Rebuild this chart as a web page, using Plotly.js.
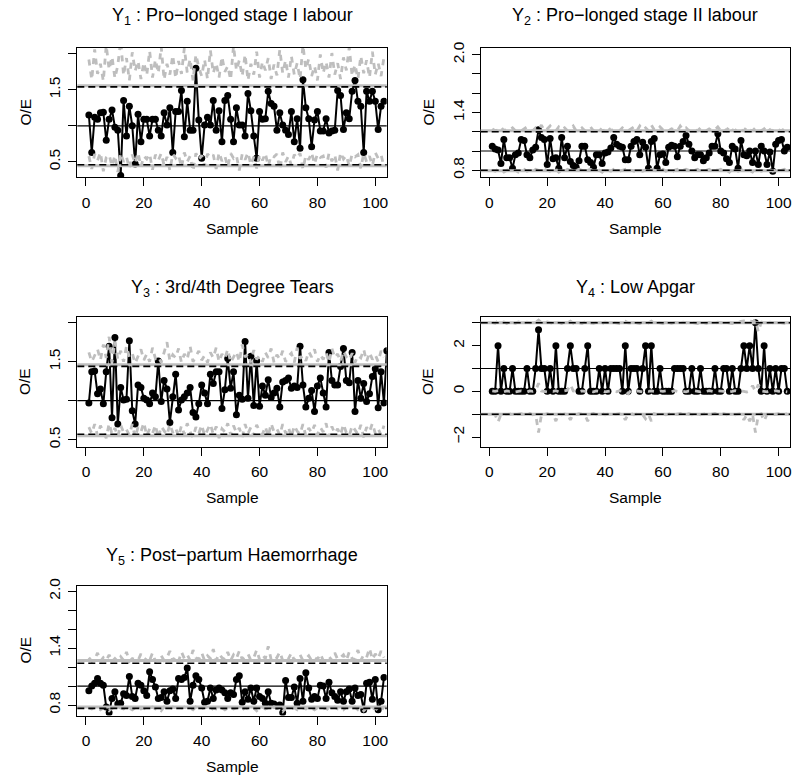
<!DOCTYPE html>
<html><head><meta charset="utf-8">
<script src="https://cdn.plot.ly/plotly-3.0.1.min.js"></script>
<style>html,body{margin:0;padding:0;background:#fff}#chart{width:795px;height:779px}</style>
</head><body><div id="chart"></div>
<script>
// ---- text ----
const panelTitles = [
  "Y<sub>1</sub> : Pro\u2212longed stage I labour",
  "Y<sub>2</sub> : Pro\u2212longed stage II labour",
  "Y<sub>3</sub> : 3rd/4th Degree Tears",
  "Y<sub>4</sub> : Low Apgar",
  "Y<sub>5</sub> : Post\u2212partum Haemorrhage"
];
const xLabel = "Sample";
const yLabel = "O/E";
const xTickVals = [0, 20, 40, 60, 80, 100];
const yTickVals1 = [0.5, 1.0, 1.5, 2.0];
const yTickText1 = ["0.5", " ", "1.5", " "];
const yTickVals2 = [0.8, 1.0, 1.2, 1.4, 1.6, 1.8, 2.0];
const yTickText2 = ["0.8", " ", " ", "1.4", " ", " ", "2.0"];
const yTickVals4 = [-2, -1, 0, 1, 2, 3];
const yTickText4 = ["\u22122", " ", "0", " ", "2", " "];

// ---- observed O/E series ----
const obs1 = [1.15,0.63,1.12,1.09,1.18,1.19,0.80,1.09,1.22,0.98,0.94,0.31,1.35,0.86,1.27,1.00,0.47,1.16,0.78,1.09,
1.09,0.86,1.09,1.09,0.94,0.86,1.18,1.01,1.25,0.63,1.20,1.20,1.49,0.85,1.34,0.94,0.94,1.80,1.08,0.55,
1.01,1.12,1.01,1.35,0.94,1.21,0.78,1.35,1.42,1.09,0.78,1.25,1.01,1.01,0.86,1.45,1.21,0.86,0.55,1.20,
1.09,1.10,1.48,1.31,1.27,0.94,1.18,1.01,0.94,0.88,1.20,0.78,1.10,0.69,1.64,1.25,1.10,0.71,1.08,1.20,
0.93,0.93,1.10,0.90,0.93,0.94,1.49,1.42,0.95,1.18,1.10,1.48,1.63,1.34,1.27,0.63,1.48,1.34,1.48,1.34,
0.95,1.27,1.34];
const obs2 = [1.05,1.02,1.01,0.87,1.12,0.93,0.93,0.82,0.96,0.98,1.12,1.11,0.96,0.93,1.01,1.04,1.22,1.14,1.12,0.86,
1.13,0.92,0.93,0.82,1.14,0.93,1.05,0.89,0.85,0.83,0.90,1.05,1.05,0.91,0.88,0.83,0.96,0.96,0.87,0.98,
0.99,1.03,1.14,1.07,1.05,1.04,0.91,0.91,1.05,1.10,1.12,0.96,1.09,1.04,0.82,1.10,1.13,0.82,0.96,0.97,
0.88,1.04,1.06,1.05,0.94,1.05,1.10,1.16,1.07,1.00,0.93,0.96,0.96,0.90,0.93,0.98,1.05,1.05,1.18,1.00,
0.98,0.92,0.88,1.05,1.02,0.82,1.11,0.96,0.95,1.00,0.88,1.00,0.86,1.05,1.00,0.86,0.99,0.79,1.07,1.11,
1.12,1.00,1.04];
const obs3 = [0.97,1.37,1.38,1.09,1.15,0.96,1.37,1.70,0.78,1.81,0.70,1.17,1.01,1.02,1.77,0.87,0.70,1.20,1.17,1.03,
1.01,0.96,1.10,1.05,1.51,0.99,1.26,1.15,0.72,1.05,1.34,0.88,1.01,1.05,1.10,1.17,0.85,0.79,0.96,1.20,
1.10,0.96,1.34,1.22,1.37,1.37,0.90,1.14,1.54,1.16,1.37,0.82,1.07,1.02,1.76,1.03,1.57,0.94,1.51,0.93,
1.19,1.07,1.27,1.04,1.10,1.16,0.92,1.24,1.26,1.29,1.16,1.19,1.17,1.70,1.20,0.92,1.03,1.13,0.86,1.19,
1.29,1.10,0.92,1.62,1.26,1.20,1.20,1.44,1.67,1.26,1.23,1.62,0.86,1.26,1.03,1.22,0.99,1.09,1.31,1.41,
0.91,1.37,0.97,1.64];
const obs4 = [0,0,2,0,1,0,0,1,0,0,0,0,1,0,0,1,2.7,1,1,0,
1,0,2,0,0,0,1,2,1,1,0,0,1,2,0,0,0,1,0,1,
0,1,1,1,1,0,2,0,1,1,1,0,1,2,0,2,0,0,1,0,
0,0,0,1,1,1,1,0,0,1,0,0,1,0,0,0,0,1,0,0,
1,1,0,1,0,0,1,2,1,2,1,3,1,0,2,0,1,0,1,0,
1,1,0];
const obs5 = [0.95,1.00,1.03,1.08,1.03,1.01,0.78,0.72,0.87,0.94,0.81,0.82,0.92,0.90,1.10,0.89,0.87,1.03,1.01,0.95,
0.90,1.15,1.07,0.99,0.87,0.88,0.94,0.84,0.95,0.97,0.87,1.08,1.07,1.09,1.19,0.84,1.01,1.11,1.07,0.98,
0.83,0.84,0.98,0.87,0.96,0.98,0.96,0.93,0.87,0.93,0.91,1.07,1.11,0.83,0.94,0.86,0.98,0.84,0.98,0.89,
0.87,0.82,0.94,0.82,0.81,0.79,0.80,0.72,1.06,0.88,0.88,0.99,0.82,1.08,0.84,1.14,0.98,0.86,0.89,0.87,
1.01,1.00,0.87,1.04,0.93,0.89,0.85,0.94,0.84,0.94,0.97,0.84,0.98,0.90,0.91,0.75,1.03,1.04,0.86,1.07,
0.75,0.84,1.09];

// ---- simulated upper / lower bands (grey dashed) ----
const simUp1 = [1.92,1.64,2.06,1.72,1.86,1.62,2.12,1.78,1.96,1.66,1.84,2.18,1.7,1.94,1.63,2.02,1.76,1.9,1.65,1.88,
1.7,2.04,1.67,1.92,1.73,2.1,1.64,1.86,1.71,1.98,1.66,1.9,1.72,2.08,1.74,1.93,1.63,1.99,1.81,1.69,
1.92,1.65,2.05,1.73,1.87,1.67,1.96,1.75,1.83,1.64,2.11,1.77,1.91,1.69,1.99,1.63,1.86,1.71,2.03,1.67,
1.89,1.77,1.94,1.65,1.85,1.7,2.06,1.73,1.91,1.67,1.97,1.71,1.87,1.65,2.12,1.79,1.93,1.69,1.83,1.63,
1.99,1.73,1.89,1.67,2.01,1.71,1.87,1.65,1.95,1.77,2.09,1.69,1.85,1.65,1.97,1.73,1.91,1.67,2.03,1.71,
1.87,1.69,1.95];
const simLo1 = [0.58,0.4,0.61,0.52,0.63,0.37,0.56,0.6,0.44,0.59,0.36,0.62,0.5,0.57,0.41,0.6,0.48,0.63,0.43,0.58,
0.54,0.61,0.39,0.6,0.52,0.62,0.45,0.57,0.38,0.61,0.55,0.6,0.42,0.63,0.5,0.58,0.37,0.62,0.53,0.59,
0.44,0.61,0.56,0.6,0.4,0.63,0.51,0.58,0.43,0.62,0.55,0.59,0.38,0.61,0.53,0.63,0.46,0.57,0.41,0.6,
0.52,0.62,0.44,0.59,0.57,0.61,0.39,0.63,0.5,0.58,0.45,0.6,0.55,0.62,0.4,0.59,0.53,0.63,0.47,0.61,
0.56,0.58,0.42,0.62,0.51,0.6,0.38,0.63,0.54,0.59,0.44,0.61,0.57,0.6,0.41,0.62,0.5,0.58,0.45,0.63,
0.55,0.6,0.43];
const simUp2 = [1.23,1.21,1.22,1.25,1.21,1.23,1.22,1.24,1.21,1.22,1.21,1.23,1.25,1.22,1.21,1.24,1.22,1.27,1.21,1.23,
1.26,1.22,1.21,1.25,1.22,1.24,1.21,1.23,1.26,1.21,1.22,1.24,1.21,1.23,1.25,1.21,1.22,1.24,1.21,1.22,
1.25,1.21,1.23,1.22,1.21,1.24,1.22,1.21,1.23,1.25,1.21,1.26,1.22,1.24,1.21,1.27,1.22,1.21,1.25,1.22,
1.24,1.21,1.23,1.22,1.21,1.26,1.22,1.24,1.21,1.23,1.22,1.21,1.24,1.22,1.21,1.23,1.21,1.22,1.25,1.21,
1.23,1.21,1.26,1.22,1.21,1.24,1.22,1.21,1.25,1.22,1.21,1.24,1.22,1.21,1.23,1.26,1.22,1.21,1.24,1.22,
1.21,1.23,1.22];
const simLo2 = [0.80,0.79,0.81,0.80,0.78,0.80,0.81,0.79,0.80,0.78,0.80,0.81,0.79,0.80,0.78,0.81,0.80,0.79,0.81,0.80,
0.79,0.80,0.81,0.78,0.80,0.79,0.81,0.80,0.79,0.80,0.81,0.80,0.78,0.80,0.81,0.79,0.80,0.80,0.78,0.81,
0.80,0.79,0.81,0.80,0.79,0.80,0.81,0.78,0.80,0.79,0.81,0.80,0.79,0.80,0.78,0.81,0.80,0.79,0.80,0.81,
0.79,0.80,0.78,0.80,0.81,0.79,0.80,0.81,0.80,0.79,0.80,0.81,0.79,0.78,0.80,0.81,0.79,0.80,0.80,0.81,
0.79,0.80,0.78,0.81,0.80,0.79,0.80,0.81,0.79,0.80,0.78,0.80,0.81,0.79,0.80,0.80,0.81,0.79,0.80,0.78,
0.80,0.81,0.79];
const simUp3 = [1.62,1.5,1.58,1.66,1.52,1.72,1.55,1.82,1.49,1.76,1.53,1.64,1.5,1.7,1.56,1.61,1.48,1.58,1.66,1.52,
1.6,1.5,1.68,1.54,1.57,1.49,1.63,1.75,1.51,1.59,1.55,1.67,1.49,1.6,1.53,1.7,1.5,1.57,1.64,1.52,
1.58,1.49,1.62,1.55,1.68,1.5,1.6,1.54,1.66,1.49,1.57,1.63,1.5,1.72,1.56,1.6,1.49,1.65,1.53,1.58,
1.5,1.62,1.55,1.67,1.49,1.59,1.53,1.64,1.5,1.57,1.61,1.49,1.68,1.54,1.58,1.51,1.63,1.56,1.66,1.5,
1.59,1.53,1.62,1.49,1.67,1.55,1.6,1.5,1.64,1.56,1.52,1.61,1.49,1.58,1.55,1.66,1.5,1.62,1.53,1.59,
1.5,1.64,1.56];
const simLo3 = [0.66,0.58,0.7,0.55,0.68,0.6,0.52,0.71,0.57,0.65,0.54,0.69,0.59,0.63,0.56,0.7,0.53,0.66,0.6,0.72,
0.55,0.64,0.58,0.69,0.52,0.67,0.61,0.56,0.7,0.59,0.65,0.54,0.68,0.57,0.71,0.6,0.53,0.66,0.58,0.69,
0.55,0.63,0.7,0.57,0.67,0.52,0.64,0.6,0.71,0.56,0.68,0.59,0.65,0.53,0.7,0.58,0.66,0.55,0.69,0.61,
0.57,0.67,0.54,0.71,0.6,0.64,0.56,0.7,0.58,0.66,0.53,0.68,0.61,0.57,0.7,0.55,0.65,0.59,0.69,0.56,
0.66,0.6,0.71,0.54,0.67,0.58,0.64,0.56,0.7,0.59,0.55,0.68,0.62,0.57,0.69,0.53,0.66,0.6,0.71,0.58,
0.64,0.56,0.68];
const simUp4 = [3.02,2.98,3.08,3.0,3.03,2.97,3.05,3.01,2.98,3.04,3.0,2.97,3.03,3.0,2.98,3.02,3.12,3.0,2.97,3.04,
3.0,2.98,3.06,3.01,2.97,3.03,3.0,3.07,2.98,3.02,3.0,2.97,3.03,3.07,3.0,2.98,3.02,3.0,2.97,3.03,
3.0,2.98,3.02,3.0,2.97,3.03,3.07,3.0,2.98,3.02,3.0,2.97,3.03,3.08,3.0,3.07,2.98,3.02,3.0,2.97,
3.03,3.0,2.98,3.02,3.0,2.97,3.03,3.0,2.98,3.02,3.0,2.97,3.03,3.0,2.98,3.02,3.0,2.97,3.03,3.0,
2.98,3.02,3.0,2.97,3.03,3.0,3.06,3.08,3.04,3.1,3.03,3.12,2.6,3.02,3.07,2.98,3.03,3.0,2.97,3.02,
3.0,2.98,3.02];
const simLo4 = [-1.0,-1.02,-1.35,-1.0,-0.98,-1.02,-1.0,-0.97,-1.01,-1.0,-0.98,-1.02,-1.0,-0.97,-1.02,-1.0,-1.8,-1.02,-1.0,-0.98,
-1.02,-1.0,-1.3,-0.98,-1.02,-1.0,-0.97,-1.25,-1.0,-1.02,-0.98,-1.0,-1.02,-1.3,-1.0,-0.97,-1.02,-1.0,-0.98,-1.02,
-1.0,-0.97,-1.02,-1.0,-0.98,-1.02,-1.25,-1.0,-0.97,-1.02,-1.0,-0.98,-1.02,-1.2,-1.0,-1.3,-0.98,-1.02,-1.0,-0.97,
-1.02,-1.0,-0.98,-1.02,-1.0,-0.97,-1.02,-1.0,-0.98,-1.02,-1.0,-0.97,-1.02,-1.0,-0.98,-1.02,-1.0,-0.97,-1.02,-1.0,
-0.98,-1.02,-1.0,-0.97,-1.02,-1.0,-0.98,-1.25,-1.02,-1.3,-1.0,-1.8,-1.02,-0.98,-1.3,-1.0,-0.97,-1.02,-1.0,-0.98,
-1.02,-1.0,-0.98];
const simMid4 = [0.02,0,0.03,0,-0.02,0.02,0,0.03,-0.02,0,0.02,0,-0.03,0.02,0,0.04,0.35,0.02,0,-0.02,
0.02,0,0.03,-0.02,0,0.02,0.05,0.3,0.02,0,-0.02,0.02,0,0.03,0,-0.02,0.02,0,0.03,-0.02,
0,0.02,0,-0.02,0.03,0,0.02,-0.1,0.05,0,0.02,0,-0.02,0.03,0,0.02,0,-0.02,0.02,0,
0.02,0,-0.02,0.03,0,0.02,0,-0.02,0.02,0,0.02,0,-0.02,0.02,0,0.03,0,-0.02,0.02,0,
0,0.02,-0.02,0,0.03,0,0.02,0,-0.03,0.02,0.25,0,0.3,0.02,0,-0.02,0.02,0,0.03,0,
0.02,0,-0.02];
const simUp5 = [1.3,1.26,1.28,1.35,1.26,1.3,1.27,1.33,1.26,1.29,1.26,1.31,1.27,1.36,1.26,1.29,1.28,1.27,1.34,1.26,
1.3,1.27,1.35,1.26,1.29,1.32,1.27,1.3,1.37,1.27,1.31,1.26,1.36,1.29,1.33,1.27,1.38,1.3,1.28,1.35,
1.27,1.32,1.29,1.39,1.27,1.34,1.3,1.28,1.36,1.27,1.33,1.29,1.37,1.28,1.31,1.34,1.27,1.3,1.38,1.28,
1.33,1.29,1.42,1.28,1.32,1.3,1.36,1.27,1.31,1.29,1.35,1.27,1.3,1.33,1.27,1.29,1.32,1.27,1.3,1.28,
1.34,1.27,1.29,1.31,1.27,1.35,1.28,1.3,1.33,1.27,1.36,1.29,1.28,1.38,1.27,1.33,1.3,1.4,1.28,1.34,
1.29,1.37,1.3];
const simLo5 = [0.77,0.76,0.78,0.77,0.75,0.77,0.78,0.74,0.77,0.76,0.78,0.77,0.76,0.78,0.77,0.75,0.77,0.78,0.76,0.77,
0.75,0.77,0.78,0.76,0.77,0.74,0.78,0.77,0.76,0.78,0.77,0.75,0.77,0.78,0.76,0.77,0.75,0.78,0.77,0.76,
0.78,0.77,0.74,0.77,0.76,0.78,0.77,0.75,0.77,0.78,0.76,0.77,0.78,0.75,0.77,0.76,0.78,0.77,0.74,0.77,
0.78,0.76,0.77,0.75,0.78,0.77,0.76,0.73,0.77,0.78,0.76,0.77,0.75,0.78,0.77,0.76,0.78,0.77,0.75,0.77,
0.78,0.76,0.77,0.74,0.77,0.78,0.76,0.77,0.75,0.78,0.77,0.76,0.78,0.75,0.77,0.74,0.77,0.78,0.76,0.77,
0.74,0.77,0.76];

// ---- reference lines ----
const centreLine = [1, 1, 1, 1, 1];
const upperLimit = [1.54, 1.20, 1.44, 3.00, 1.24];
const lowerLimit = [0.46, 0.80, 0.57, -1.00, 0.765];
const greyUpper = [1.555, 1.21, 1.46, 3.00, 1.27];
const greyLower = [0.445, 0.795, 0.55, -1.00, 0.78];
const yRanges = [[0.29, 2.08], [0.73, 2.07], [0.41, 2.07], [-2.42, 3.24], [0.69, 2.06]];

// ---- build ----
const W = 795, H = 779;
const obsAll = [obs1, obs2, obs3, obs4, obs5];
const simUpAll = [simUp1, simUp2, simUp3, simUp4, simUp5];
const simLoAll = [simLo1, simLo2, simLo3, simLo4, simLo5];
const colX = [[77.3, 386.7], [480.7, 790]];
const rowY = [[48, 177], [317.3, 446.7], [585.5, 715.5]];
const yTicks = [[yTickVals1, yTickText1], [yTickVals2, yTickText2], [yTickVals1, yTickText1], [yTickVals4, yTickText4], [yTickVals2, yTickText2]];
const GREY = "#bebebe";
const FONT = "Liberation Sans, Arial, Helvetica, sans-serif";

const traces = [], shapes = [], annotations = [];
const layout = {
  width: W, height: H, margin: {l: 0, r: 0, t: 0, b: 0},
  paper_bgcolor: "#fff", plot_bgcolor: "#fff", showlegend: false,
  font: {family: FONT, color: "#000", size: 15}
};
const idx = a => a.map((_, i) => i + 1);

for (let p = 0; p < 5; p++) {
  const col = p % 2, row = Math.floor(p / 2);
  const xa = "x" + (p + 1), ya = "y" + (p + 1);
  const xk = "xaxis" + (p === 0 ? "" : p + 1), yk = "yaxis" + (p === 0 ? "" : p + 1);
  const xd = [colX[col][0] / W, colX[col][1] / W];
  const yd = [1 - rowY[row][1] / H, 1 - rowY[row][0] / H];
  layout[xk] = {
    domain: xd, anchor: ya, range: [-3.0, 103.95], tickvals: xTickVals,
    ticks: "outside", ticklen: 8, tickwidth: 1, tickcolor: "#000",
    showline: true, mirror: true, linecolor: "#000", linewidth: 1,
    showgrid: false, zeroline: false, tickfont: {size: 15.5, family: FONT},
    ticklabelstandoff: 3, fixedrange: true
  };
  layout[yk] = {
    domain: yd, anchor: xa, range: yRanges[p], tickvals: yTicks[p][0], ticktext: yTicks[p][1],
    tickangle: -90, ticks: "outside", ticklen: 8, tickwidth: 1, tickcolor: "#000",
    showline: true, mirror: true, linecolor: "#000", linewidth: 1,
    showgrid: false, zeroline: false, tickfont: {size: 15.5, family: FONT},
    ticklabelstandoff: 2, fixedrange: true
  };
  // observed series
  traces.push({
    type: "scatter", mode: "lines+markers", x: idx(obsAll[p]), y: obsAll[p], xaxis: xa, yaxis: ya,
    line: {color: "#000", width: 2}, marker: {color: "#000", size: 7}, hoverinfo: "skip"
  });
  // simulated grey dashed bands
  [simUpAll[p], simLoAll[p]].concat(p === 3 ? [simMid4] : []).forEach(s => {
    traces.push({
      type: "scatter", mode: "lines", x: idx(s), y: s, xaxis: xa, yaxis: ya,
      line: {color: GREY, width: 2.8, dash: "6px,6px"}, hoverinfo: "skip"
    });
  });
  // grey solid limits, black dashed limits, centre line
  const hl = (yv, color, width, dash) => shapes.push({
    type: "line", xref: xa + " domain", yref: ya, x0: 0, x1: 1, y0: yv, y1: yv,
    line: {color: color, width: width, dash: dash}, layer: "above"
  });
  hl(greyUpper[p], GREY, 3, "solid");
  hl(greyLower[p], GREY, 3, "solid");
  hl(upperLimit[p], "#000", 1.6, "7px,4px");
  hl(lowerLimit[p], "#000", 1.6, "7px,4px");
  hl(centreLine[p], "#000", 1.2, "solid");

  // text
  const cx = (colX[col][0] + colX[col][1]) / 2 / W;
  const titleY = [17, 288, 556][row], labY = [228, 497, 766][row];
  const oeX = [25, 428][col];
  const midY = (rowY[row][0] + rowY[row][1]) / 2;
  annotations.push({xref: "paper", yref: "paper", x: cx, y: 1 - titleY / H, text: panelTitles[p],
    showarrow: false, xanchor: "center", yanchor: "middle", font: {size: 18, family: FONT}});
  annotations.push({xref: "paper", yref: "paper", x: cx, y: 1 - labY / H, text: xLabel,
    showarrow: false, xanchor: "center", yanchor: "middle", font: {size: 15.5, family: FONT}});
  annotations.push({xref: "paper", yref: "paper", x: oeX / W, y: 1 - midY / H, text: yLabel, textangle: -90,
    showarrow: false, xanchor: "center", yanchor: "middle", font: {size: 15.5, family: FONT}});
}
layout.shapes = shapes;
layout.annotations = annotations;
Plotly.newPlot("chart", traces, layout, {displayModeBar: false, staticPlot: true});
</script>
</body></html>
